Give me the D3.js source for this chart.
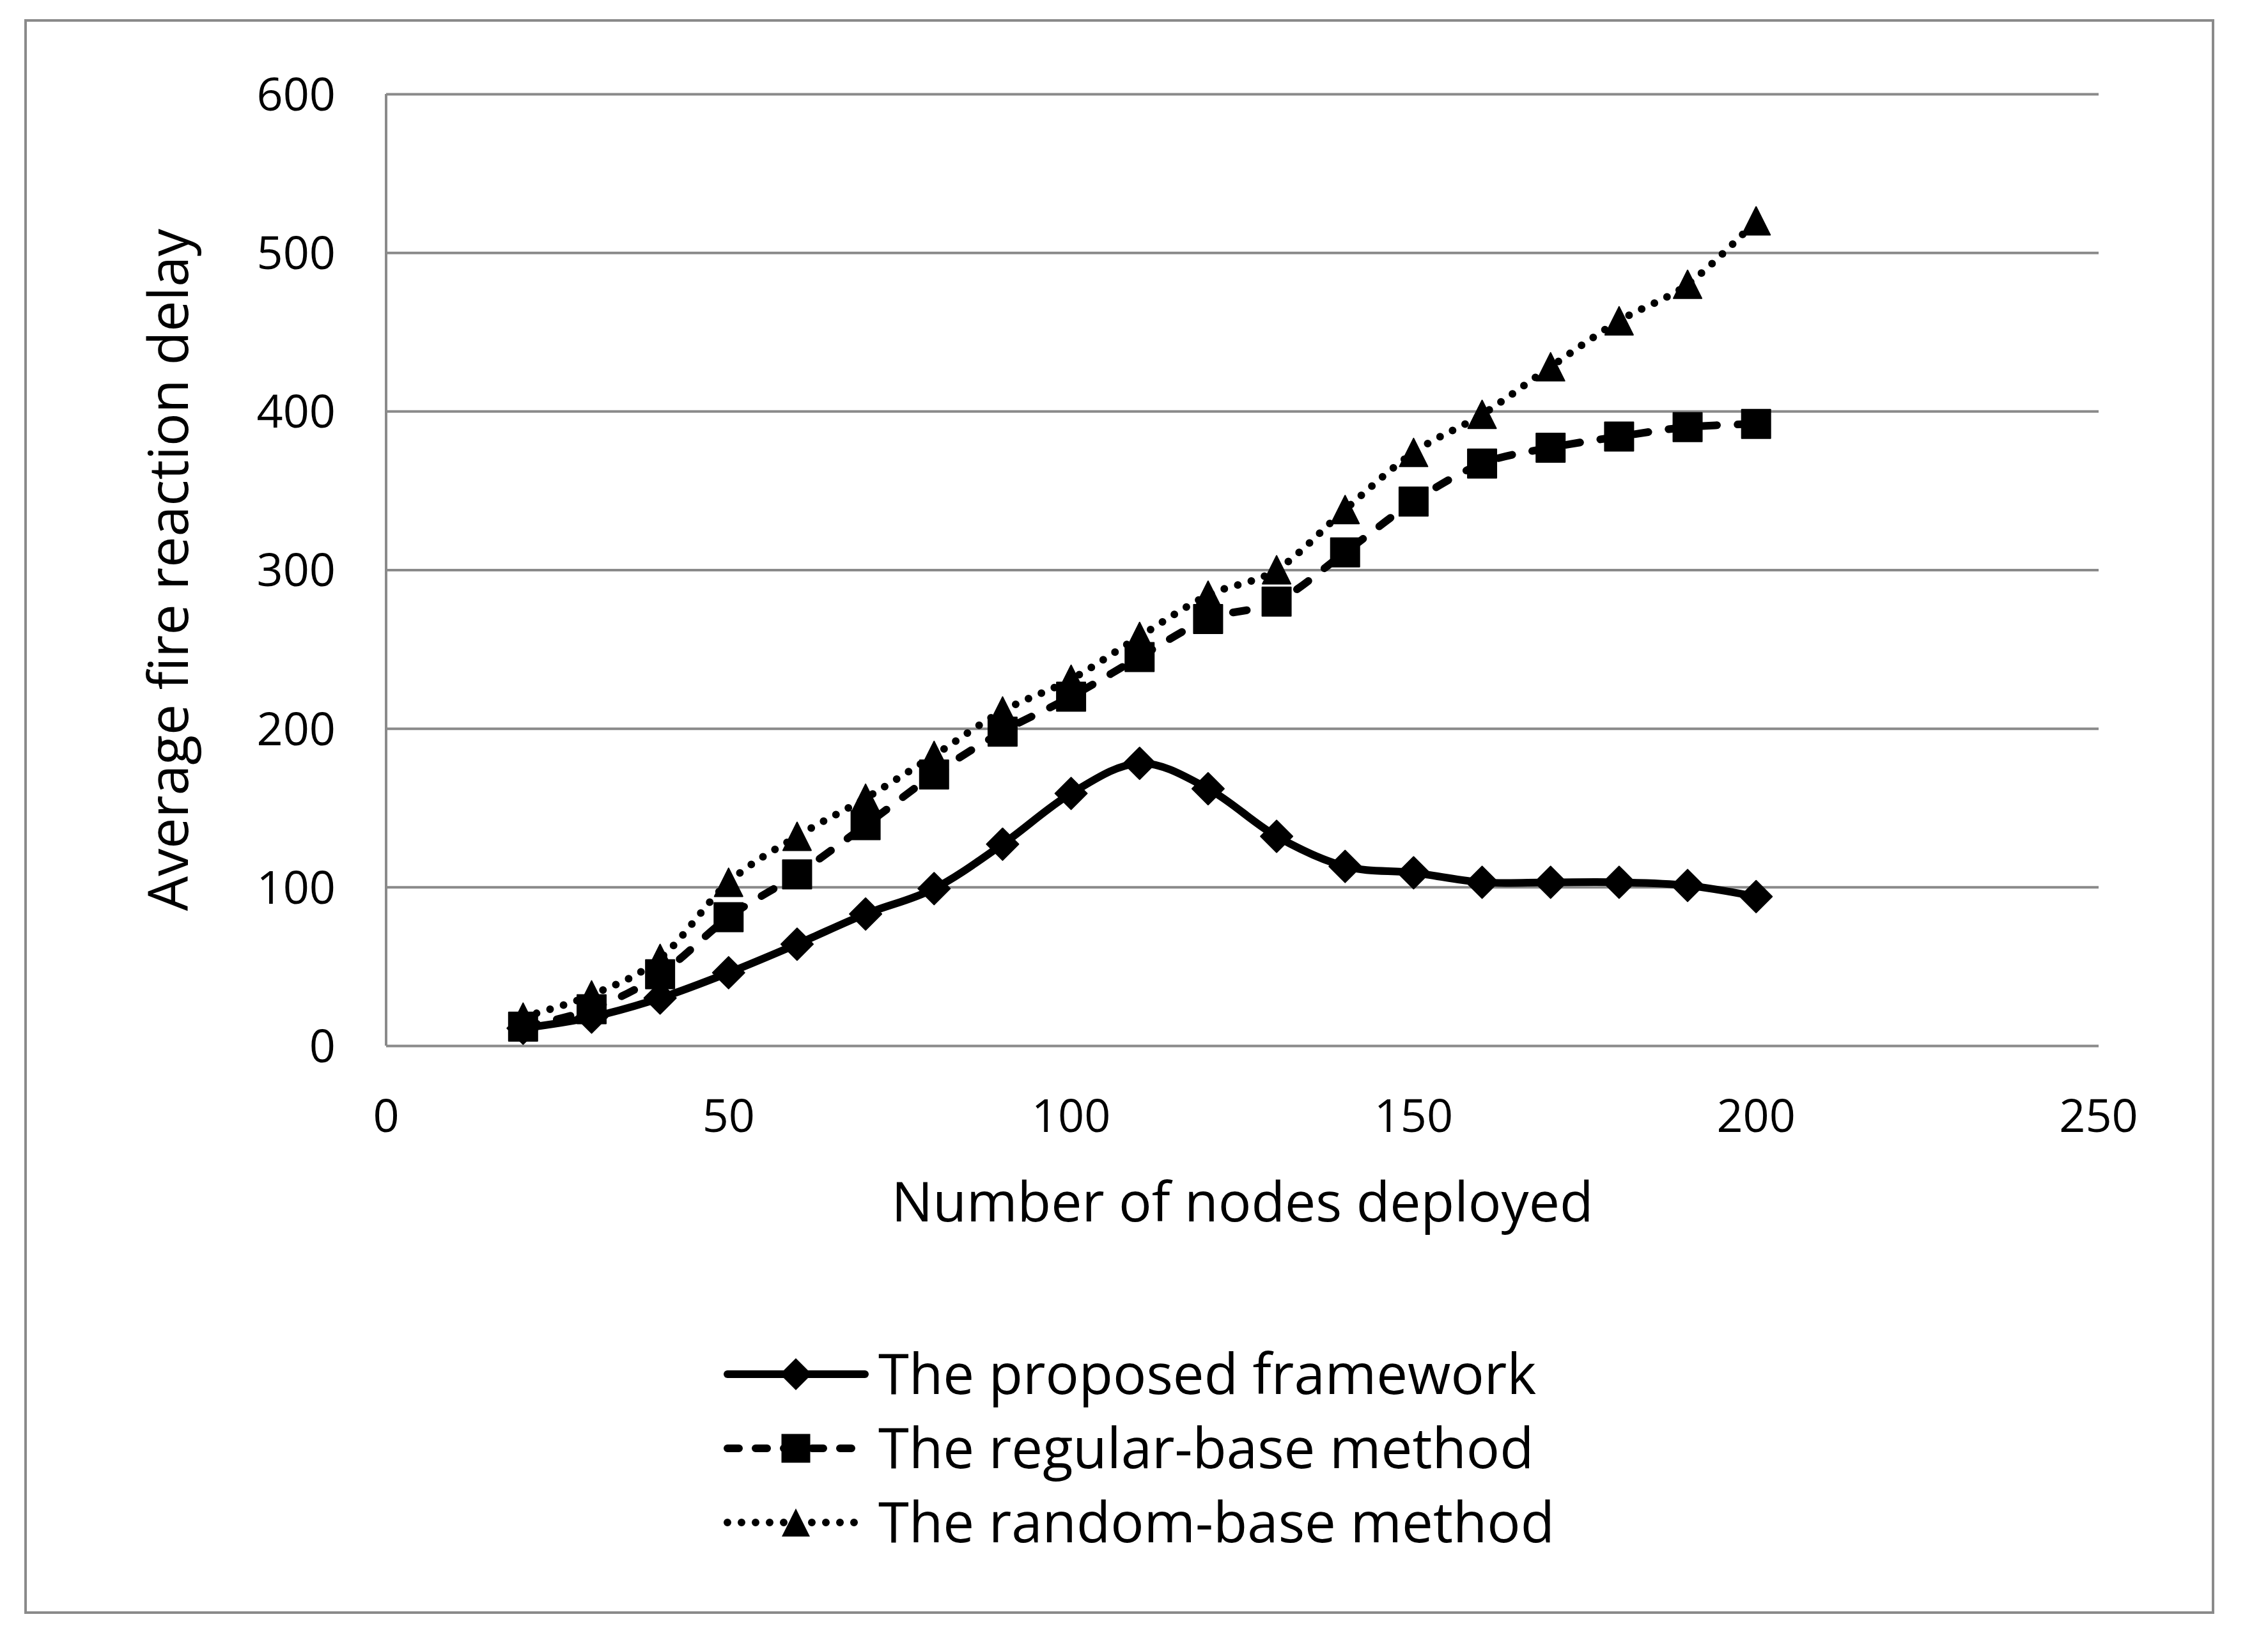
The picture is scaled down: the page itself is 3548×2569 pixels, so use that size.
<!DOCTYPE html>
<html>
<head>
<meta charset="utf-8">
<script src="https://cdn.jsdelivr.net/npm/d3@7"></script>
<style>
  body { margin: 0; background: #fff; }
  text { font-family: "Open Sans", "Noto Sans", sans-serif; fill: #000; }
</style>
</head>
<body>
<div id="chart"></div>
<script>
// ---- DATA ---------------------------------------------------------
var nodes = [20, 30, 40, 50, 60, 70, 80, 90, 100, 110, 120, 130, 140, 150, 160, 170, 180, 190, 200];
var proposed = [11, 18, 30, 46, 64, 83, 99, 127, 159, 178, 162, 132, 113, 109, 103, 103, 103, 101, 94];
var regular = [12, 23, 45, 81, 108, 139, 171, 198, 220, 245, 269, 280, 311, 343, 367, 377, 384, 390, 392];
var random = [18, 32, 55, 103, 132, 156, 183, 211, 231, 258, 284, 300, 338, 374, 398, 428, 457, 480, 520];
var seriesNames = ["The proposed framework", "The regular-base method", "The random-base method"];
var xTicks = [0, 50, 100, 150, 200, 250];
var yTicks = [0, 100, 200, 300, 400, 500, 600];

// ---- VARIABLES ----------------------------------------------------
var w = 3548;
var h = 2569;
var plotLeft = 604, plotRight = 3283, plotTop = 147, plotBottom = 1636;
var grey = "#8a8a8a";
var lineW = 12;

var svg = d3.select("#chart")
  .append("svg")
  .attr("width", w)
  .attr("height", h);

// outer frame
svg.append("rect")
  .attr("x", 40).attr("y", 32)
  .attr("width", 3422).attr("height", 2491)
  .attr("fill", "white")
  .attr("stroke", grey)
  .attr("stroke-width", 4);

// ---- SCALES -------------------------------------------------------
var xScale = d3.scaleLinear().domain([0, 250]).range([plotLeft, plotRight]);
var yScale = d3.scaleLinear().domain([0, 600]).range([plotBottom, plotTop]);

// gridlines
svg.append("g")
  .attr("transform", "translate(" + plotLeft + ",0)")
  .call(d3.axisLeft(yScale).tickValues(yTicks).tickSize(-(plotRight - plotLeft)).tickFormat(""))
  .call(function(g) {
    g.select(".domain").remove();
    g.selectAll("line").attr("stroke", grey).attr("stroke-width", 4);
  });

// y axis line
svg.append("line")
  .attr("x1", plotLeft).attr("x2", plotLeft)
  .attr("y1", plotTop).attr("y2", plotBottom)
  .attr("stroke", grey).attr("stroke-width", 4);

// tick labels
svg.append("g")
  .selectAll("text")
  .data(yTicks)
  .enter()
  .append("text")
  .attr("x", 525)
  .attr("y", function(d) { return yScale(d); })
  .attr("dy", "0.36em")
  .attr("text-anchor", "end")
  .attr("font-size", "72px")
  .text(function(d) { return d; });

svg.append("g")
  .selectAll("text")
  .data(xTicks)
  .enter()
  .append("text")
  .attr("x", function(d) { return xScale(d); })
  .attr("y", 1745)
  .attr("dy", "0.36em")
  .attr("text-anchor", "middle")
  .attr("font-size", "72px")
  .text(function(d) { return d; });

// axis titles
svg.append("text")
  .attr("x", (plotLeft + plotRight) / 2)
  .attr("y", 1880)
  .attr("dy", "0.36em")
  .attr("text-anchor", "middle")
  .attr("font-size", "86px")
  .text("Number of nodes deployed");

svg.append("text")
  .attr("transform", "translate(263," + ((plotTop + plotBottom) / 2) + ") rotate(-90)")
  .attr("dy", "0.36em")
  .attr("text-anchor", "middle")
  .attr("font-size", "86px")
  .text("Average fire reaction delay");

// ---- LINES AND MARKERS --------------------------------------------
function diamond(s) { return "M0," + (-s) + "L" + s + ",0L0," + s + "L" + (-s) + ",0Z"; }
function square(s) { return "M" + (-s) + "," + (-s) + "H" + s + "V" + s + "H" + (-s) + "Z"; }
function triangle(s) { return "M0," + (-s) + "L" + s + "," + s + "L" + (-s) + "," + s + "Z"; }

var series = [
  { name: seriesNames[0], values: proposed, dash: null, legendDash: null, marker: diamond(25) },
  { name: seriesNames[1], values: regular, dash: "22,32", legendDash: "18,26", marker: square(22.5) },
  { name: seriesNames[2], values: random, dash: "0,22", legendDash: "0,22", marker: triangle(22) }
];

var line = d3.line()
  .x(function(d, i) { return xScale(nodes[i]); })
  .y(function(d) { return yScale(d); })
  .curve(d3.curveCatmullRom.alpha(0));

series.forEach(function(s) {
  svg.append("path")
    .datum(s.values)
    .attr("d", line)
    .attr("fill", "none")
    .attr("stroke", "black")
    .attr("stroke-width", lineW)
    .attr("stroke-linecap", "round")
    .attr("stroke-linejoin", "round")
    .attr("stroke-dasharray", s.dash);

  svg.append("g")
    .selectAll("path")
    .data(s.values)
    .enter()
    .append("path")
    .attr("transform", function(d, i) {
      return "translate(" + xScale(nodes[i]) + "," + yScale(d) + ")";
    })
    .attr("d", s.marker)
    .attr("fill", "black")
    .attr("stroke", "black")
    .attr("stroke-width", 2)
    .attr("stroke-linejoin", "round");
});

// ---- LEGEND -------------------------------------------------------
var legend = svg.append("g");
series.forEach(function(s, i) {
  var ly = 2150 + i * 116;
  legend.append("line")
    .attr("x1", 1138).attr("x2", 1353)
    .attr("y1", ly).attr("y2", ly)
    .attr("stroke", "black")
    .attr("stroke-width", lineW)
    .attr("stroke-linecap", "round")
    .attr("stroke-dasharray", s.legendDash);
  legend.append("path")
    .attr("transform", "translate(1245," + ly + ")")
    .attr("d", s.marker)
    .attr("fill", "black");
  legend.append("text")
    .attr("x", 1374)
    .attr("y", ly)
    .attr("dy", "0.36em")
    .attr("font-size", "87px")
    .text(s.name);
});
</script>
</body>
</html>
